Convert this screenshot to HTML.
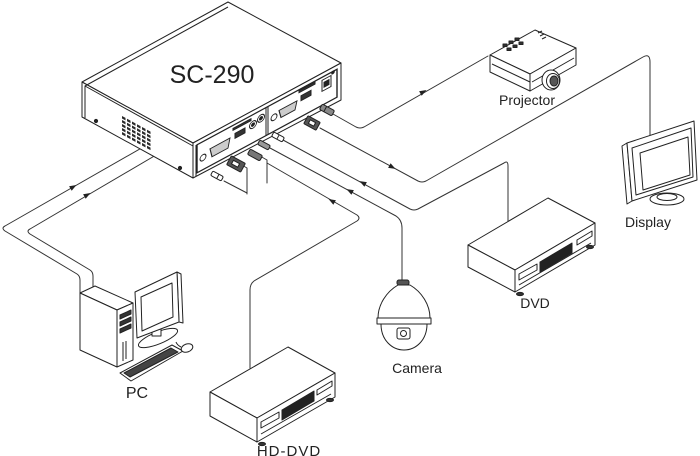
<!DOCTYPE html>
<html><head><meta charset="utf-8"><style>
html,body{margin:0;padding:0;background:#fff;}
svg{display:block;}
text{font-family:"Liberation Sans",Arial,sans-serif;fill:#222;}
</style></head><body>
<svg width="700" height="456" viewBox="0 0 700 456" xmlns="http://www.w3.org/2000/svg">
<defs>
<polygon id="arr" points="4,0 -3,-2.6 -3,2.6" fill="#222"/>
</defs>
<g fill="none" stroke="#333" stroke-width="1" stroke-linejoin="round" stroke-linecap="round">
<!-- cables -->
<path d="M333,114 L356,127 Q360,129 364,127 L488,56"/>
<path d="M320,128 L418,181 Q422,183 426,181 L643,57 Q650,53 650,62 L650,136"/>
<path d="M283,140 L410,209 Q414,211 418,209 L504,163 Q508,160 508,166 L508,222"/>
<path d="M270,148 L396,216 Q402,220 402,228 L402,281"/>
<path d="M267,163 L357,215 Q361,218 357,221 L254,281 Q250,284 250,290 L250,368"/>
<path d="M233,120 Q226,111 218,110 L208,110 L5,226 Q1,228 5,231 L77,274 Q80,276 80,280 L80,293"/>
<path d="M223,135 Q218,128 212,128 L202,128 L30,229 Q26,231 30,234 L90,270 Q93,272 93,276 L93,288"/>
<path d="M240,164 L247,168 L247,194"/>
<path d="M260,156 L267,160 L267,183"/>
<path d="M224,181 L247,193"/>
</g>
<!-- arrows -->
<use href="#arr" transform="translate(423,92) rotate(-29.7)"/>
<use href="#arr" transform="translate(392,167) rotate(28.4)"/>
<use href="#arr" transform="translate(363,183) rotate(208.4)"/>
<use href="#arr" transform="translate(350,191) rotate(208.4)"/>
<use href="#arr" transform="translate(332,201) rotate(209.5)"/>
<use href="#arr" transform="translate(73,187) rotate(-29.7)"/>
<use href="#arr" transform="translate(87,195) rotate(-30)"/>

<!-- SC-290 main box -->
<g stroke="#222" stroke-width="1" stroke-linejoin="round" fill="#fff">
<polygon points="82,82 228,2 341,63 193,143"/>
<polygon points="82,82 193,143 193,178 82,117"/>
<polygon points="193,143 341,63 341,100 193,178"/>
<polyline fill="none" points="85,118 85,86 228,7"/>
<line x1="85" y1="86" x2="193" y2="146" fill="none"/>
<line x1="196" y1="145" x2="196" y2="176" fill="none"/>
<circle cx="96" cy="121" r="1.6" fill="#222"/>
<circle cx="180" cy="168" r="1.6" fill="#222"/>
</g>
<!-- vent grille -->
<g transform="matrix(1,0.55,0,1,82,82)" fill="#2a2a2a">
<rect x="40" y="12" width="3.5" height="2.5"/><rect x="45" y="12" width="3.5" height="2.5"/><rect x="50" y="12" width="3.5" height="2.5"/><rect x="55" y="12" width="3.5" height="2.5"/><rect x="60" y="12" width="3.5" height="2.5"/><rect x="65" y="12" width="3.5" height="2.5"/>
<rect x="40" y="16" width="3.5" height="2.5"/><rect x="45" y="16" width="3.5" height="2.5"/><rect x="50" y="16" width="3.5" height="2.5"/><rect x="55" y="16" width="3.5" height="2.5"/><rect x="60" y="16" width="3.5" height="2.5"/><rect x="65" y="16" width="3.5" height="2.5"/>
<rect x="40" y="20" width="3.5" height="2.5"/><rect x="45" y="20" width="3.5" height="2.5"/><rect x="50" y="20" width="3.5" height="2.5"/><rect x="55" y="20" width="3.5" height="2.5"/><rect x="60" y="20" width="3.5" height="2.5"/><rect x="65" y="20" width="3.5" height="2.5"/>
<rect x="40" y="24" width="3.5" height="2.5"/><rect x="45" y="24" width="3.5" height="2.5"/><rect x="50" y="24" width="3.5" height="2.5"/><rect x="55" y="24" width="3.5" height="2.5"/><rect x="60" y="24" width="3.5" height="2.5"/><rect x="65" y="24" width="3.5" height="2.5"/>
<rect x="40" y="28" width="3.5" height="2.5"/><rect x="45" y="28" width="3.5" height="2.5"/><rect x="50" y="28" width="3.5" height="2.5"/><rect x="55" y="28" width="3.5" height="2.5"/><rect x="60" y="28" width="3.5" height="2.5"/><rect x="65" y="28" width="3.5" height="2.5"/>
</g>
<!-- front panel -->
<g transform="matrix(1,-0.54,0,1,193,143)" stroke="#222" stroke-width="1" fill="none">
<rect x="4" y="4" width="140" height="28" stroke-width="1.4"/>
<line x1="73" y1="4" x2="73" y2="32"/><line x1="75" y1="4" x2="75" y2="32"/>
<circle cx="10" cy="20" r="3"/>
<path d="M17,15 L37,15 L35,24 L19,24 Z" fill="#ccc"/>
<rect x="40" y="7" width="18" height="2" fill="#333"/>
<rect x="42" y="13" width="10" height="5" fill="#333"/>
<circle cx="60" cy="14" r="3.5" fill="#fff"/><circle cx="60" cy="14" r="1.5" fill="#222"/>
<circle cx="68" cy="12" r="3.5" fill="#fff"/><circle cx="68" cy="12" r="1.5" fill="#222"/>
<circle cx="81" cy="18" r="3"/>
<path d="M86,14 L104,14 L102,22 L88,22 Z" fill="#ccc"/>
<rect x="106" y="5" width="16" height="2" fill="#333"/>
<rect x="108" y="11" width="10" height="5" fill="#333"/>
<rect x="129" y="7" width="9" height="11" fill="#fff"/><rect x="131" y="10" width="5" height="5" fill="#222"/>
<circle cx="140" cy="5" r="1.3" fill="#222"/>
</g>
<!-- plugs -->
<g stroke="#222" stroke-width="1" fill="#fff">
<g transform="translate(327,110) rotate(28.4)"><rect x="-7" y="-3" width="14" height="6" rx="1.5" fill="#888"/><line x1="-2" y1="-3" x2="-2" y2="3"/></g>
<g transform="translate(312,123) rotate(28.4)"><rect x="-7" y="-4.5" width="14" height="9" rx="1" fill="#555"/><rect x="-3" y="-2" width="6" height="4" fill="#fff"/></g>
<g transform="translate(278,137) rotate(28.4)"><rect x="-6" y="-2.5" width="12" height="5" rx="1.5"/><line x1="0" y1="-2.5" x2="0" y2="2.5"/></g>
<g transform="translate(264,145) rotate(28.4)"><rect x="-6" y="-2.5" width="12" height="5" rx="1.5" fill="#999"/></g>
<g transform="translate(255,155) rotate(28.4)"><rect x="-7" y="-3" width="14" height="6" rx="1.5" fill="#777"/></g>
<g transform="translate(236,164) rotate(28.4)"><rect x="-8" y="-5" width="16" height="10" rx="1" fill="#555"/><rect x="-4" y="-2" width="7" height="4" fill="#fff"/></g>
<g transform="translate(217,176) rotate(28.4)"><rect x="-6" y="-2.5" width="12" height="5" rx="1.5"/><line x1="1" y1="-2.5" x2="1" y2="2.5"/></g>
</g>
<text x="212" y="83" font-size="25" text-anchor="middle">SC-290</text>

<!-- Projector -->
<g stroke="#222" stroke-width="1" fill="#fff" stroke-linejoin="round">
<polygon points="490,55 535,30 576,48 530,74"/>
<polygon points="490,55 530,74 530,91 490,72"/>
<polygon points="530,74 576,48 576,65 530,91"/>
<line x1="492" y1="64" x2="530" y2="82" fill="none"/>
<line x1="532" y1="82" x2="574" y2="58" fill="none"/>
<rect x="503" y="44" width="4" height="2.5" fill="#333"/><rect x="509" y="41" width="4" height="2.5" fill="#333"/><rect x="515" y="38" width="4" height="2.5" fill="#333"/>
<rect x="507" y="48" width="4" height="2.5" fill="#333"/><rect x="513" y="45" width="4" height="2.5" fill="#333"/><rect x="519" y="42" width="4" height="2.5" fill="#333"/>
<line x1="538" y1="33" x2="542" y2="31" fill="none"/><line x1="540" y1="36" x2="544" y2="34" fill="none"/><line x1="542" y1="39" x2="546" y2="37" fill="none"/>
<ellipse cx="551" cy="80" rx="9" ry="10"/>
<ellipse cx="553" cy="81" rx="6.5" ry="7.5"/>
<ellipse cx="554" cy="81" rx="4" ry="5" fill="#555"/>
</g>
<text x="527" y="105" font-size="14" text-anchor="middle">Projector</text>

<!-- Display -->
<g stroke="#222" stroke-width="1" fill="#fff" stroke-linejoin="round">
<ellipse cx="667" cy="199" rx="17" ry="6"/>
<ellipse cx="667" cy="197" rx="10" ry="3.5"/>
<polygon points="622,146 627,143 632,201 627,204"/>
<polygon points="627,143 694,121 697,180 632,201"/>
<polygon points="632,148 691,128 693,177 636,195" fill="none"/>
<polygon points="640,153 688,137 690,175 643,190" fill="none"/>
</g>
<text x="648" y="227" font-size="14" text-anchor="middle">Display</text>

<!-- DVD -->
<g stroke="#222" stroke-width="1" fill="#fff" stroke-linejoin="round">
<polygon points="468,245 548,198 595,223 515,270"/>
<polygon points="468,245 515,270 515,292 468,267"/>
<polygon points="515,270 595,223 595,245 515,292"/>
<polygon points="540,262 572,243 572,253 540,272" fill="#222"/>
<polygon points="519,274 537,264 537,270 519,280" fill="none"/>
<polygon points="577,240 592,231 592,236 577,245" fill="none"/>
<line x1="519" y1="285" x2="591" y2="243" fill="none"/>
<ellipse cx="520" cy="294" rx="3.5" ry="1.6" fill="#333"/>
<ellipse cx="590" cy="247" rx="3.5" ry="1.6" fill="#333"/>
</g>
<text x="535" y="308" font-size="14" text-anchor="middle">DVD</text>

<!-- HD-DVD -->
<g stroke="#222" stroke-width="1" fill="#fff" stroke-linejoin="round">
<polygon points="210,392 288,347 335,373 257,418"/>
<polygon points="210,392 257,418 257,442 210,416"/>
<polygon points="257,418 335,373 335,397 257,442"/>
<polygon points="282,410 314,391 314,401 282,420" fill="#222"/>
<polygon points="261,422 279,412 279,418 261,428" fill="none"/>
<polygon points="317,390 332,381 332,386 317,395" fill="none"/>
<line x1="261" y1="434" x2="331" y2="394" fill="none"/>
<ellipse cx="262" cy="444" rx="3.5" ry="1.6" fill="#333"/>
<ellipse cx="330" cy="400" rx="3.5" ry="1.6" fill="#333"/>
</g>
<text x="289" y="456" font-size="15" text-anchor="middle" letter-spacing="1">HD-DVD</text>

<!-- Camera -->
<g stroke="#222" stroke-width="1" fill="#fff" stroke-linejoin="round">
<rect x="397" y="280" width="12" height="5" rx="2" fill="#555"/>
<path d="M398,285 C386,292 378,305 378,318 L430,318 C430,305 422,292 410,285 Z"/>
<path d="M377,318 L431,318 L431,324 L377,324 Z"/>
<path d="M381,324 C381,340 392,350 404,350 C416,350 427,340 427,324 Z"/>
<rect x="397" y="328" width="13" height="11" rx="2"/>
<circle cx="403.5" cy="333.5" r="3"/>
</g>
<text x="417" y="373" font-size="14" text-anchor="middle">Camera</text>

<!-- PC -->
<g stroke="#222" stroke-width="1" fill="#fff" stroke-linejoin="round">
<polygon points="80,293 95,286 133,303 117,310"/>
<polygon points="80,293 117,310 117,367 80,350"/>
<polygon points="117,310 133,303 133,360 117,367"/>
<polygon points="120,315 131,310 131,314 120,319" fill="#333"/>
<polygon points="120,322 131,317 131,321 120,326" fill="#333"/>
<polygon points="120,329 131,324 131,328 120,333" fill="#333"/>
<line x1="123" y1="342" x2="123" y2="361" fill="none"/>
<line x1="126" y1="341" x2="126" y2="359" fill="none"/>
<ellipse cx="158" cy="338" rx="21" ry="6" transform="rotate(-22 158 338)"/>
<rect x="152" y="328" width="9" height="8" fill="#fff"/>
<polygon points="177,272 181,274 183,323 179,322"/>
<polygon points="135,292 177,272 179,322 137,338"/>
<polygon points="141,297 172,283 173,317 142,331" fill="none"/>
<polygon points="120,373 172,345 183,351 131,381"/>
<polygon points="124,373 171,348 178,352 130,377" fill="#444"/>
<ellipse cx="187" cy="348" rx="6" ry="4" transform="rotate(-20 187 348)"/>
<path d="M181,347 Q177,345 176,342" fill="none"/>
</g>
<text x="137" y="398" font-size="16" text-anchor="middle">PC</text>
</svg>
</body></html>
